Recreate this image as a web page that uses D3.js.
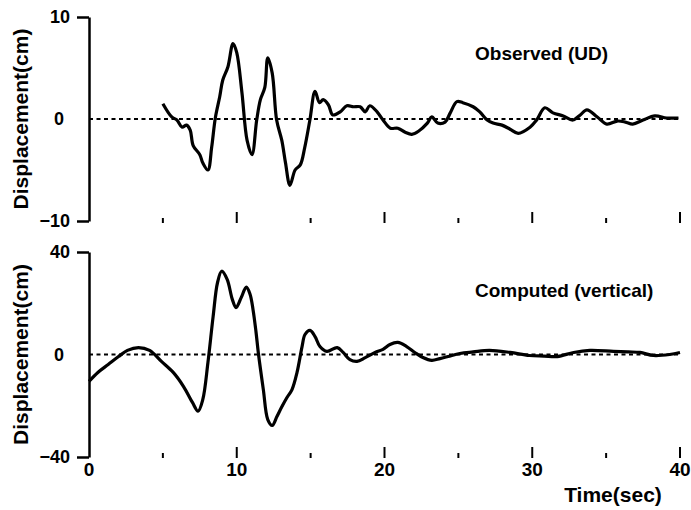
<!DOCTYPE html>
<html>
<head>
<meta charset="utf-8">
<script src="https://cdn.jsdelivr.net/npm/d3@7"></script>
<style>
  body { margin: 0; background: #fff; }
  text { font-family: "Liberation Sans", Arial, Helvetica, sans-serif; font-weight: bold; fill: #000; }
</style>
</head>
<body>
<div class="chart"></div>
<script>
// observed record (UD), starts at ~5 s
var obsTime = [5.0, 5.6, 5.95, 6.3, 6.6, 6.85, 7.05, 7.5, 7.7, 8.05, 8.3, 8.55, 8.85, 9.05, 9.4, 9.75, 10.0, 10.35, 10.7, 11.03,
  11.35, 11.6, 11.9, 12.1, 12.4, 12.7, 13.05, 13.3, 13.6, 13.95, 14.3, 14.6, 14.95, 15.3, 15.6, 15.85, 16.2, 16.5, 17.0, 17.45,
  17.9, 18.35, 18.7, 19.0, 19.5, 19.9, 20.4, 20.9, 21.4, 21.85, 22.3, 22.9, 23.2, 23.6, 24.1, 24.45, 24.9, 25.3, 26.0, 26.45,
  26.95, 27.35, 27.95, 28.5, 29.05, 29.85, 30.3, 30.85, 31.4, 32.1, 32.75, 33.25, 33.7, 34.4, 35.05, 35.75, 36.3, 36.8, 37.5, 38.3,
  39.1, 39.9];
var obsDisp = [1.5, 0.2, -0.1, -0.8, -0.6, -1.1, -2.6, -3.5, -4.3, -5.0, -2.8, 0.1, 2.2, 3.8, 5.1, 7.4, 6.5, 2.6, -2.1, -3.5,
  -0.1, 1.9, 3.1, 6.0, 4.5, -0.1, -2.1, -4.3, -6.5, -5.0, -4.5, -2.8, -0.1, 2.7, 1.6, 1.9, 1.4, 0.4, 0.7, 1.3,
  1.2, 1.2, 0.7, 1.3, 0.7, -0.1, -0.9, -0.9, -1.3, -1.5, -1.2, -0.4, 0.2, -0.4, -0.3, 0.6, 1.7, 1.6, 1.2, 0.7,
  -0.1, -0.4, -0.6, -1.0, -1.4, -0.8, -0.1, 1.1, 0.6, 0.3, -0.1, 0.4, 0.9, 0.2, -0.5, -0.2, -0.3, -0.5, -0.1, 0.3,
  0.1, 0.1];

// computed (vertical)
var compTime = [0, 0.6, 1.3, 2.0, 2.6, 3.35, 4.1, 4.9, 5.7, 6.4, 7.0, 7.38, 7.7, 8.05, 8.4, 8.7, 8.98, 9.35, 9.7, 9.95,
  10.3, 10.65, 10.9, 11.1, 11.3, 11.46, 11.8, 12.1, 12.4, 12.72, 13.06, 13.4, 13.74, 14.08, 14.42, 14.62, 14.96, 15.3, 15.63, 16.1,
  16.8, 17.2, 17.66, 18.14, 18.7, 19.36, 19.9, 20.37, 20.9, 21.5, 22.05, 22.6, 23.2, 23.75, 24.3, 25.1, 26.0, 27.1, 28.5, 29.8,
  30.8, 31.7, 32.8, 33.9, 35.5, 36.5, 37.3, 38.2, 39.3, 40];
var compDisp = [-10.5, -7.0, -3.9, -0.8, 1.6, 2.7, 1.6, -2.7, -7.0, -12.5, -18.7, -22.1, -17.6, -3.1, 14.8, 28.1, 32.5, 29.3, 21.5, 18.3,
  22.2, 26.3, 23.5, 17.6, 9.0, 0.7, -13.7, -25.4, -27.7, -24.2, -20.3, -16.8, -13.7, -7.0, 3.1, 7.8, 9.4, 7.0, 3.1, 1.2,
  2.7, 0.8, -2.0, -2.7, -1.2, 0.8, 2.0, 3.9, 4.7, 3.1, 0.8, -1.2, -2.3, -1.6, -0.8, 0.4, 1.0, 1.6, 0.8, -0.4,
  -0.6, -0.8, 0.8, 1.6, 1.2, 1.0, 0.8, -0.4, 0.0, 0.8];

var xTicks = [5, 10, 15, 20, 25, 30, 35, 40];
var xLabels = [0, 10, 20, 30, 40];
var obsTicks = [-10, 0, 10];
var compTicks = [-40, 0, 40];

var svgWidth = 691;
var svgHeight = 510;

var svg = d3.select(".chart")
  .append("svg")
  .attr("width", svgWidth)
  .attr("height", svgHeight);

var x = d3.scaleLinear().domain([0, 40]).range([89, 680]);

var panels = [
  { time: obsTime, disp: obsDisp, ticks: obsTicks, dom: [-10, 10], range: [221, 17], tickBase: 223,
    title: "Observed (UD)", titleY: 60 },
  { time: compTime, disp: compDisp, ticks: compTicks, dom: [-40, 40], range: [457, 252], tickBase: 458,
    title: "Computed (vertical)", titleY: 297 }
];

panels.forEach(function(p, i) {
  var y = d3.scaleLinear().domain(p.dom).range(p.range);
  var g = svg.append("g");

  // y axis
  var leftAxis = d3.axisLeft(y)
    .tickValues(p.ticks)
    .tickSizeInner(12)
    .tickSizeOuter(0)
    .tickPadding(7)
    .tickFormat(function(d) { return d < 0 ? "\u2212" + Math.abs(d) : d; });

  var ax = g.append("g")
    .attr("transform", "translate(" + x(0) + ",0)")
    .call(leftAxis);
  ax.select(".domain").attr("stroke", "#000").attr("stroke-width", 2.5);
  ax.selectAll(".tick line").attr("stroke", "#000").attr("stroke-width", 2.5)
    .attr("display", function(d) { return d === 0 ? "none" : null; });
  ax.selectAll(".tick text")
    .style("font-size", "18px")
    .style("font-weight", "bold")
    .attr("fill", "#000")
    .attr("dx", function(d) { return d === 0 ? -6 : 0; });

  // zero line
  g.append("line")
    .attr("x1", x(0)).attr("x2", x(40))
    .attr("y1", y(0)).attr("y2", y(0))
    .attr("stroke", "#000")
    .attr("stroke-width", 1.8)
    .attr("stroke-dasharray", "4,3.5");

  // time ticks (floating, no axis line)
  g.selectAll(".xt").data(xTicks).enter()
    .append("line")
    .attr("x1", d => x(d)).attr("x2", d => x(d))
    .attr("y1", p.tickBase)
    .attr("y2", d => p.tickBase - (d % 10 === 0 ? 11 : 5))
    .attr("stroke", "#000")
    .attr("stroke-width", 2);

  // data curve
  var line = d3.line()
    .x(function(d, k) { return x(p.time[k]); })
    .y(function(d) { return y(d); })
    .curve(d3.curveCatmullRom);

  g.append("path")
    .datum(p.disp)
    .attr("d", line)
    .attr("fill", "none")
    .attr("stroke", "#000")
    .attr("stroke-width", 3.2)
    .attr("stroke-linejoin", "round");

  // labels
  g.append("text")
    .attr("x", 475)
    .attr("y", p.titleY)
    .style("font-size", "19px")
    .text(p.title);

  g.append("text")
    .attr("transform", "translate(28," + ((p.range[0] + p.range[1]) / 2) + ") rotate(-90)")
    .attr("text-anchor", "middle")
    .style("font-size", "21px")
    .text("Displacement(cm)");
});

// time labels under the lower panel
svg.selectAll(".xl").data(xLabels).enter()
  .append("text")
  .attr("x", d => x(d))
  .attr("y", 476)
  .attr("text-anchor", "middle")
  .style("font-size", "19px")
  .text(d => d);

svg.append("text")
  .attr("x", 613)
  .attr("y", 502)
  .attr("text-anchor", "middle")
  .style("font-size", "21px")
  .text("Time(sec)");
</script>
</body>
</html>
